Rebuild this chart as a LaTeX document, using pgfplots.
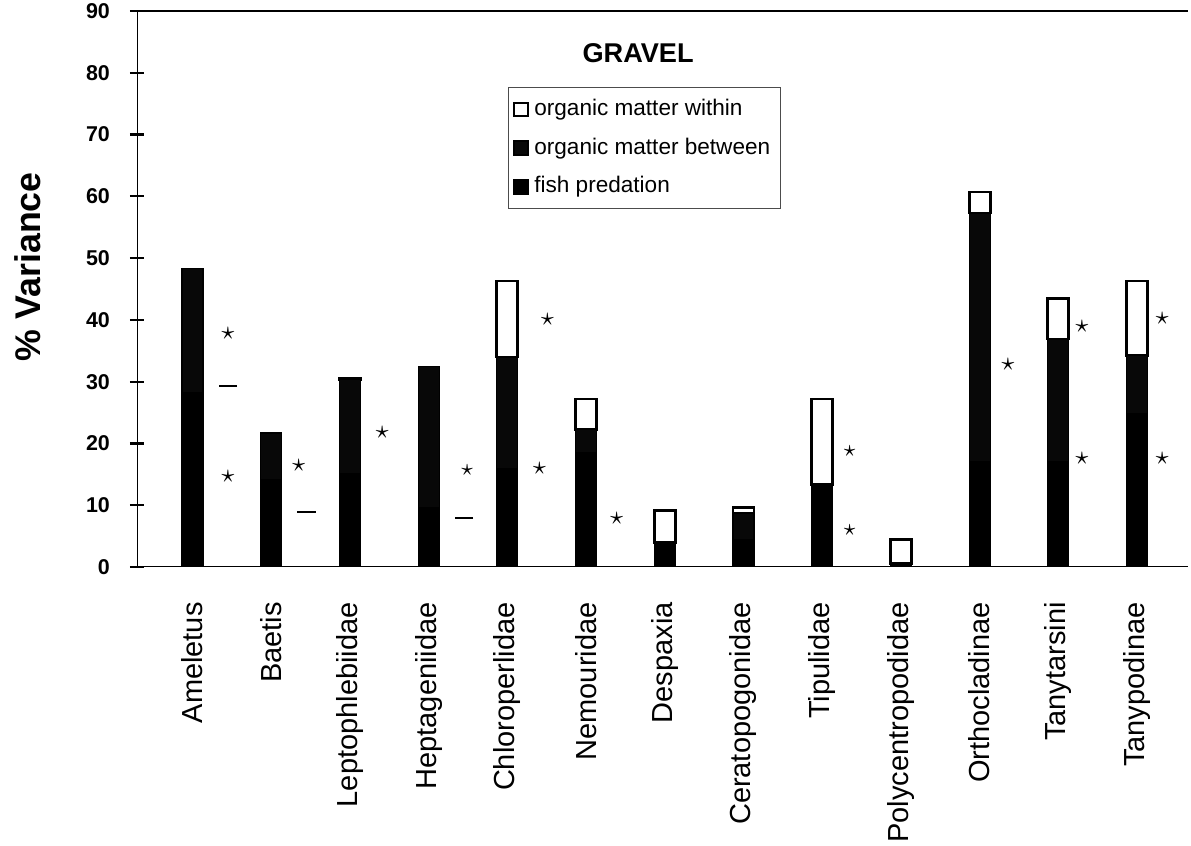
\documentclass[border=0pt]{standalone}
\usepackage{pgfplots}
\usepackage{pgfplotstable}
\pgfplotsset{compat=1.18}
\usepackage{fontspec}
\setmainfont{Liberation Sans}

% stacked segments, bottom to top
\pgfplotstableread{
x  fish  between within
0  28.3  20.0    0
1  14.2  7.5     0
2  15.1  15.2    0.3
3  9.7   22.8    0
4  16.0  18.0    12.3
5  18.6  3.7     4.9
6  3.9   0       5.2
7  4.5   4.2     1.0
8  13.3  0       13.9
9  0.6   0       3.8
10 17.0  40.3    3.4
11 17.0  19.9    6.5
12 24.9  9.3     12.1
}\gravel

\begin{document}
\begin{tikzpicture}
\useasboundingbox (-47.95pt,-97.65pt) rectangle (368.9pt,198.45pt);
\begin{axis}[
    scale only axis, width=367.9pt, height=194.6pt,
    xmin=-0.705, xmax=12.65, ymin=0, ymax=90,
    ybar stacked, bar width=7.35pt,
    axis line style={draw=none},
    ytick={0,10,...,90},
    ytick pos=left,
    xtick={0,...,12},
    xticklabels={Ameletus,Baetis,Leptophlebiidae,Heptageniidae,Chloroperlidae,Nemouridae,Despaxia,Ceratopogonidae,Tipulidae,Polycentropodidae,Orthocladinae,Tanytarsini,Tanypodinae},
    x tick style={draw=none},
    y tick style={black, line width=0.8pt},
    tick align=center, major tick length=4.9pt,
    /pgf/number format/assume math mode=true,
    yticklabel style={font=\bfseries\fontsize{7.5}{9}\selectfont},
    yticklabel shift=3.5pt,
    xticklabel style={rotate=90, anchor=east, font=\fontsize{10.15}{12}\selectfont},
    xticklabel shift=6.4pt,
    ylabel={\% Variance},
    ylabel style={font=\bfseries\fontsize{12.5}{14}\selectfont, at={(axis description cs:-0.1035,0.54)}, anchor=center},
    reverse legend,
    legend cell align=left,
    legend image code/.code={\draw[#1,line width=0.7pt] (0pt,-2.4pt) rectangle (4.8pt,2.4pt);},
    legend style={at={(axis description cs:0.353,0.863)}, anchor=north west,
        draw=black!70, line width=0.4pt, font=\fontsize{7.9}{9}\selectfont,
        row sep=2.3pt, inner xsep=1.5pt, inner ysep=2pt,
        /tikz/every even column/.append style={column sep=0pt}},
]
\addplot[fill=black, draw=black] table[x=x, y=fish] {\gravel};
\addlegendentry{fish predation}
\addplot[fill=black!97, draw=black] table[x=x, y=between] {\gravel};
\addlegendentry{organic matter between}
\addplot[fill=white, draw=black, line width=1pt] table[x=x, y=within] {\gravel};
\addlegendentry{organic matter within}
\node[font=\bfseries\fontsize{9.5}{11}\selectfont] at (axis description cs:0.4767,0.925) {GRAVEL};
\draw[line width=1pt] (rel axis cs:0,0) -- (rel axis cs:0,1) -- (rel axis cs:1,1);
\draw[line width=1pt] (rel axis cs:0,0) -- (rel axis cs:1,0);
\end{axis}
\begin{axis}[
    scale only axis, width=367.9pt, height=194.6pt,
    xmin=-0.705, xmax=12.65, ymin=0, ymax=90,
    hide axis,
]
\addplot[only marks, mark=text, text mark={$\star$}, text mark as node=true,
    mark options={font=\small, inner sep=0pt, anchor=center}] coordinates {
    (0.45,37.8) (0.45,14.7) (1.35,16.5) (2.41,21.7)
    (4.51,40.1) (4.41,15.9) (5.39,7.9)
    (10.36,32.7) (11.30,38.9) (11.30,17.6) (12.32,40.3) (12.32,17.6)
};
\addplot[only marks, mark=text, text mark={$\star$}, text mark as node=true,
    mark options={font=\footnotesize, inner sep=0pt, anchor=center}] coordinates {
    (3.49,15.7) (8.35,18.8) (8.35,6.0)
};
\addplot[only marks, mark=-, mark size=3.2pt, mark options={line width=0.8pt}] coordinates {
    (0.45,29.3) (1.45,8.9) (3.45,7.9)
};
\end{axis}
\end{tikzpicture}
\end{document}
